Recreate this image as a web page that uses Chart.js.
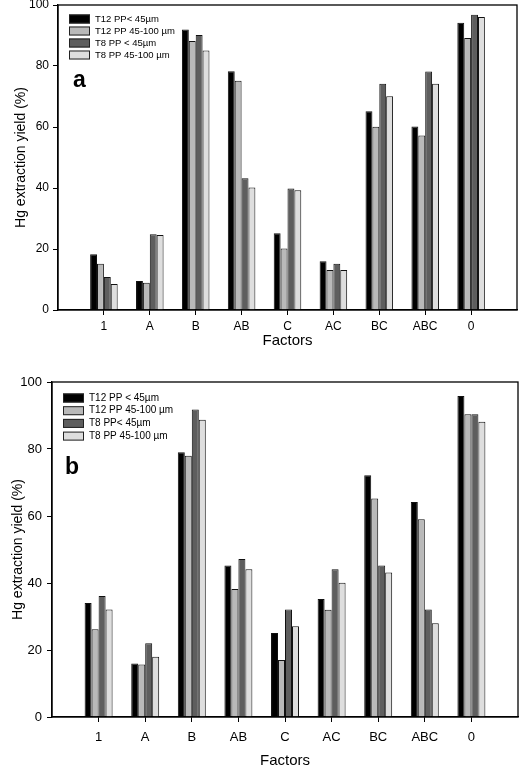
<!DOCTYPE html>
<html>
<head>
<meta charset="utf-8">
<script src="https://cdn.jsdelivr.net/npm/chart.js@4"></script>
<style>
  html, body { margin: 0; padding: 0; background: #fff; overflow: hidden; }
  #wrap { position: relative; width: 519px; height: 770px; overflow: hidden; }
  .panel { position: absolute; left: 0; }
</style>
</head>
<body>
<div id="wrap">
  <div class="panel" style="top:-10px;width:519px;height:360px"><canvas id="chart-a"></canvas></div>
  <div class="panel" style="top:365px;width:519px;height:405px"><canvas id="chart-b"></canvas></div>
</div>
<script>
const factors = ["1", "A", "B", "AB", "C", "AC", "BC", "ABC", "0"];
const yTicks = [0, 20, 40, 60, 80, 100];
const colors = ["#000000", "#b9b9b9", "#5e5e5e", "#dedede"];

// panel a
const labelsA = ["T12 PP< 45µm", "T12 PP 45-100 µm", "T8 PP < 45µm", "T8 PP 45-100 µm"];
const aT12Fine   = [18.3, 9.5, 92.0, 78.3, 25.2, 16.0, 65.2, 60.2, 94.2];
const aT12Coarse = [15.2, 8.9, 88.2, 75.2, 20.2, 13.1, 60.1, 57.2, 89.2];
const aT8Fine    = [10.8, 24.8, 90.2, 43.2, 39.8, 15.2, 74.2, 78.2, 96.8];
const aT8Coarse  = [8.5, 24.6, 85.1, 40.2, 39.3, 13.1, 70.1, 74.2, 96.1];

// panel b
const labelsB = ["T12 PP < 45µm", "T12 PP 45-100 µm", "T8 PP< 45µm", "T8 PP 45-100 µm"];
const bT12Fine   = [34.0, 16.0, 79.0, 45.2, 25.1, 35.2, 72.2, 64.2, 95.8];
const bT12Coarse = [26.2, 15.7, 78.0, 38.2, 17.0, 32.0, 65.2, 59.0, 90.4];
const bT8Fine    = [36.1, 22.0, 91.8, 47.2, 32.1, 44.1, 45.2, 32.1, 90.4];
const bT8Coarse  = [32.1, 18.0, 88.7, 44.1, 27.1, 40.1, 43.1, 28.0, 88.1];

const FONT = "'Liberation Sans', Arial, sans-serif";

// box round the plot + inner legend + panel letter
const panelDecor = {
  id: "panelDecor",
  afterDraw(chart, args, o) {
    const { ctx, chartArea: ca } = chart;
    ctx.save();
    ctx.strokeStyle = "#000";
    ctx.lineWidth = 1.3;
    ctx.strokeRect(ca.left, ca.top, ca.right - ca.left, ca.bottom - ca.top);

    chart.data.datasets.forEach((ds, i) => {
      const x = ca.left + o.lx;
      const y = ca.top + o.ly + i * o.gap;
      ctx.fillStyle = ds.backgroundColor;
      ctx.fillRect(x, y - 4.5, 21, 9);
      ctx.lineWidth = 1;
      ctx.strokeStyle = "#222";
      ctx.strokeRect(x + 0.5, y - 4, 20, 8);
      ctx.fillStyle = "#000";
      ctx.font = o.fontSize + "px " + FONT;
      ctx.textBaseline = "middle";
      ctx.fillText(ds.label, x + 26, y);
    });

    ctx.font = "bold 23px " + FONT;
    ctx.textBaseline = "alphabetic";
    ctx.fillText(o.letter, ca.left + o.tx, ca.top + o.ty);
    ctx.restore();
  }
};

function pad(arr) { return [null, ...arr, null]; }

function noOverflow(s) {
  s.paddingTop = 0; s.paddingBottom = 0; s.paddingLeft = 0; s.paddingRight = 0;
}

// no tick marks at the two empty edge slots
const lastSlot = factors.length + 1;
const xTickColor = c => (c.index === 0 || c.index === lastSlot) ? "rgba(0,0,0,0)" : "#000";

function makeChart(id, labels, series, cfg) {
  return new Chart(document.getElementById(id), {
    type: "bar",
    data: {
      labels: ["", ...factors, ""],
      datasets: series.map((s, i) => ({
        label: labels[i],
        data: pad(s),
        backgroundColor: colors[i],
        borderColor: "#111",
        borderWidth: 1,
        borderSkipped: "bottom",
        categoryPercentage: 0.6,
        barPercentage: 1.0
      }))
    },
    options: {
      responsive: true,
      maintainAspectRatio: false,
      animation: false,
      layout: { padding: { top: cfg.padTop, right: cfg.padRight, left: 0, bottom: 0 } },
      plugins: {
        legend: { display: false },
        tooltip: { enabled: false },
        panelDecor: cfg.decor
      },
      scales: {
        x: {
          offset: false,
          grid: { offset: false, drawOnChartArea: false, drawTicks: true, tickLength: 5, color: xTickColor },
          border: { color: "#000", width: 1.3 },
          ticks: { autoSkip: false, maxRotation: 0, color: "#000", padding: cfg.xTickPad, font: { family: FONT, size: cfg.tickSize } },
          title: { display: true, text: "Factors", color: "#000", padding: { top: 0, bottom: cfg.xTitlePad }, font: { family: FONT, size: 15 } },
          afterFit: s => { s.height = cfg.xHeight; noOverflow(s); }
        },
        y: {
          min: 0, max: 100,
          afterBuildTicks: s => { s.ticks = yTicks.map(v => ({ value: v })); },
          grid: { drawOnChartArea: false, drawTicks: true, tickLength: 5, color: "#000" },
          border: { color: "#000", width: 1.3 },
          ticks: { color: "#000", padding: cfg.yTickPad, font: { family: FONT, size: cfg.tickSize } },
          title: { display: true, text: "Hg extraction yield (%)", color: "#000", padding: { top: cfg.yTitlePad, bottom: 0 }, font: { family: FONT, size: 14 } },
          afterFit: s => { s.width = cfg.yWidth; noOverflow(s); }
        }
      }
    },
    plugins: [panelDecor]
  });
}

makeChart("chart-a", labelsA, [aT12Fine, aT12Coarse, aT8Fine, aT8Coarse], {
  padTop: 15, padRight: 2, xHeight: 40, yWidth: 58, tickSize: 12,
  xTickPad: 4, xTitlePad: 0, yTickPad: 4, yTitlePad: 13,
  decor: { lx: 11, ly: 14, gap: 12, fontSize: 9.5, letter: "a", tx: 15, ty: 82 }
});

makeChart("chart-b", labelsB, [bT12Fine, bT12Coarse, bT8Fine, bT8Coarse], {
  padTop: 17, padRight: 1, xHeight: 53, yWidth: 52, tickSize: 13,
  xTickPad: 8, xTitlePad: 0, yTickPad: 5, yTitlePad: 10,
  decor: { lx: 11, ly: 16, gap: 12.7, fontSize: 10, letter: "b", tx: 13, ty: 92 }
});
</script>
</body>
</html>
